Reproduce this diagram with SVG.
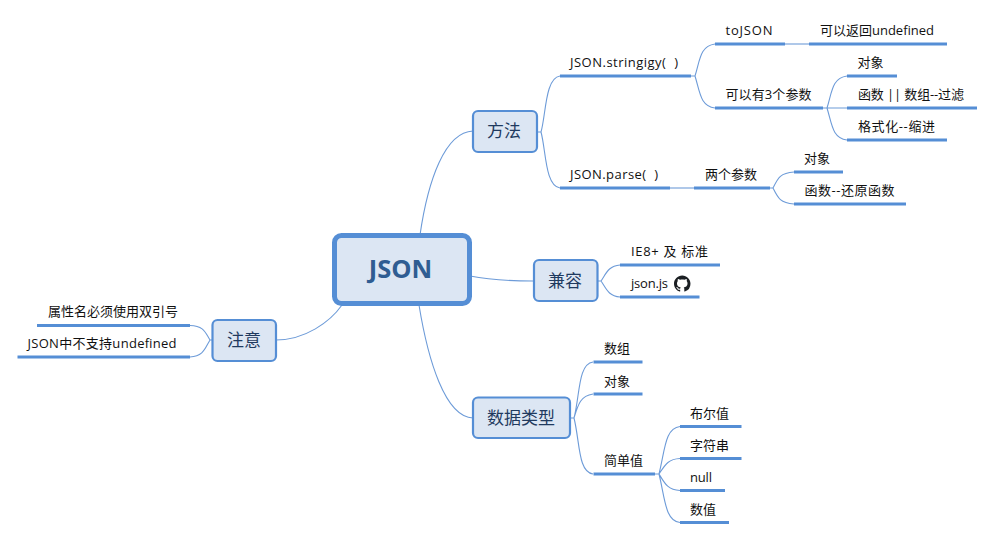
<svg xmlns="http://www.w3.org/2000/svg" width="994" height="539" viewBox="0 0 994 539">
<style>
text{font-family:"Open Sans","Noto Sans CJK SC","Noto Sans",sans-serif;font-size:13px;fill:#111}
.box{fill:#dce6f3;stroke:#558ed5;stroke-width:2.2}
.big{font-size:17px;fill:#1f3a5f;text-anchor:middle}
.c{fill:none;stroke:#6d9bd8;stroke-width:1.1}
.u{stroke:#558ed5;stroke-width:3;fill:none}
</style>
<rect width="994" height="539" fill="#fff"/>
<g id="connectors">
<path class="c" d="M420 235C428 180 445 132 473 131"/>
<path class="c" d="M470 276C490 280 510 281 533 281"/>
<path class="c" d="M419 305C428 360 445 417 473 418"/>
<path class="c" d="M342 305C330 322 305 340 276 340"/>
<path class="c" d="M537 132H541C546 115 545 78 560 76M541 132C546 150 545 186 560 188"/>
<path class="c" d="M691 76H695C700 60 700 46 715 44M695 76C700 92 700 106 715 108"/>
<path class="c" d="M785 44H809"/>
<path class="c" d="M823 108H847M827 108C832 92 832 78 847 76M827 108C832 124 832 138 847 140"/>
<path class="c" d="M670 188H694"/>
<path class="c" d="M770 188H773C778 178 780 173 794 172M773 188C778 198 780 203 794 204"/>
<path class="c" d="M597 281H601C606 274 608 266 620 265M601 281C606 288 608 296 620 297"/>
<path class="c" d="M212 340H210C205 332 204 326 190 325.500M210 340C205 348 204 356 190 357"/>
<path class="c" d="M570 418H574C580 395 578 364 593 362M574 418C578 405 580 396 593 394M574 418C580 442 578 472 593 474"/>
<path class="c" d="M655 474H659M659 474C665 450 665 428 680 426.500M659 474C665 465 668 459 680 458.500M659 474C665 484 668 490 680 490.500M659 474C665 498 665 521 680 522.500"/>
</g>
<g id="n-json"><rect x="334.500" y="235.500" width="135" height="68" rx="7" fill="#dce6f3" stroke="#558ed5" stroke-width="5"/><text x="400.500" y="278" text-anchor="middle" font-weight="700" style="font-size:25.500px;fill:#2f5d92">JSON</text></g>
<g id="n-fangfa"><rect class="box" x="473" y="111" width="64" height="41" rx="5"/><text class="big" x="504" y="137">方法</text></g>
<g id="n-jianrong"><rect class="box" x="534" y="260" width="63.500" height="41" rx="5"/><text class="big" x="565" y="287">兼容</text></g>
<g id="n-zhuyi"><rect class="box" x="212.500" y="320" width="63.500" height="41" rx="5"/><text class="big" x="244" y="346">注意</text></g>
<g id="n-types"><rect class="box" x="473" y="397.500" width="97" height="40.500" rx="5"/><text class="big" x="521" y="424">数据类型</text></g>
<g id="n-stringify"><path class="u" d="M560 76H691"/><text x="570" y="67" xml:space="preserve" textLength="108">JSON.stringigy(  )</text></g>
<g id="n-parse"><path class="u" d="M560 188H670"/><text x="570" y="179" xml:space="preserve" textLength="88">JSON.parse(  )</text></g>
<g id="n-tojson"><path class="u" d="M715 44H785"/><text x="725.500" y="35" textLength="47">toJSON</text></g>
<g id="n-return"><path class="u" d="M809 44H947"/><text x="820" y="35" textLength="114">可以返回undefined</text></g>
<g id="n-three"><path class="u" d="M715 108H823"/><text x="725.500" y="99" textLength="86">可以有3个参数</text></g>
<g id="n-obj1"><path class="u" d="M847 76H897"/><text x="857.500" y="67">对象</text></g>
<g id="n-func1"><path class="u" d="M847 108H977"/><text x="858" y="99" textLength="106">函数 || 数组--过滤</text></g>
<g id="n-format"><path class="u" d="M847 140H947"/><text x="858" y="131" textLength="77">格式化--缩进</text></g>
<g id="n-two"><path class="u" d="M694 188H770"/><text x="705" y="179">两个参数</text></g>
<g id="n-obj2"><path class="u" d="M794 172H843"/><text x="804" y="163">对象</text></g>
<g id="n-func2"><path class="u" d="M794 204H906"/><text x="804.500" y="195" textLength="90">函数--还原函数</text></g>
<g id="n-ie"><path class="u" d="M620 265H720"/><text x="631" y="256" textLength="77">IE8+ 及 标准</text></g>
<g id="n-jsonjs"><path class="u" d="M620 297H699.500"/><text x="631" y="288" textLength="37">json.js</text>
<path transform="translate(674 275.500) scale(1.03)" fill="#1b1f23" fill-rule="evenodd" d="M8 0C3.580 0 0 3.580 0 8c0 3.540 2.290 6.530 5.470 7.590.4.070.55-.17.55-.38 0-.19-.01-.82-.01-1.490-2.010.37-2.530-.49-2.690-.94-.09-.23-.48-.94-.82-1.130-.28-.15-.68-.52-.01-.53.63-.01 1.080.58 1.230.82.72 1.210 1.870.87 2.330.66.070-.52.28-.87.51-1.070-1.780-.2-3.640-.89-3.640-3.950 0-.87.310-1.590.82-2.150-.08-.2-.36-1.020.08-2.120 0 0 .67-.21 2.200.82.64-.18 1.320-.27 2-.27s1.360.09 2 .27c1.530-1.040 2.200-.82 2.200-.82.44 1.100.16 1.920.08 2.120.51.56.82 1.270.82 2.150 0 3.070-1.870 3.750-3.650 3.950.29.25.54.73.54 1.480 0 1.070-.01 1.930-.01 2.200 0 .21.15.46.55.38A8.010 8.010 0 0 0 16 8c0-4.420-3.580-8-8-8z"/></g>
<g id="n-prop"><path class="u" d="M37 325.500H190"/><text x="48" y="316">属性名必须使用双引号</text></g>
<g id="n-undef"><path class="u" d="M17.500 357H190"/><text x="27.500" y="348" textLength="149">JSON中不支持undefined</text></g>
<g id="n-arr"><path class="u" d="M593.500 362H642.500"/><text x="604" y="353">数组</text></g>
<g id="n-obj3"><path class="u" d="M593.500 394H642.500"/><text x="604" y="386">对象</text></g>
<g id="n-simple"><path class="u" d="M593.500 474H655"/><text x="604" y="465">简单值</text></g>
<g id="n-bool"><path class="u" d="M680 426.500H741.500"/><text x="690" y="418">布尔值</text></g>
<g id="n-str"><path class="u" d="M680 458.500H741.500"/><text x="690" y="450">字符串</text></g>
<g id="n-null"><path class="u" d="M680 490.500H725"/><text x="690" y="482" textLength="22">null</text></g>
<g id="n-num"><path class="u" d="M680 522.500H729"/><text x="690" y="514">数值</text></g>
</svg>
